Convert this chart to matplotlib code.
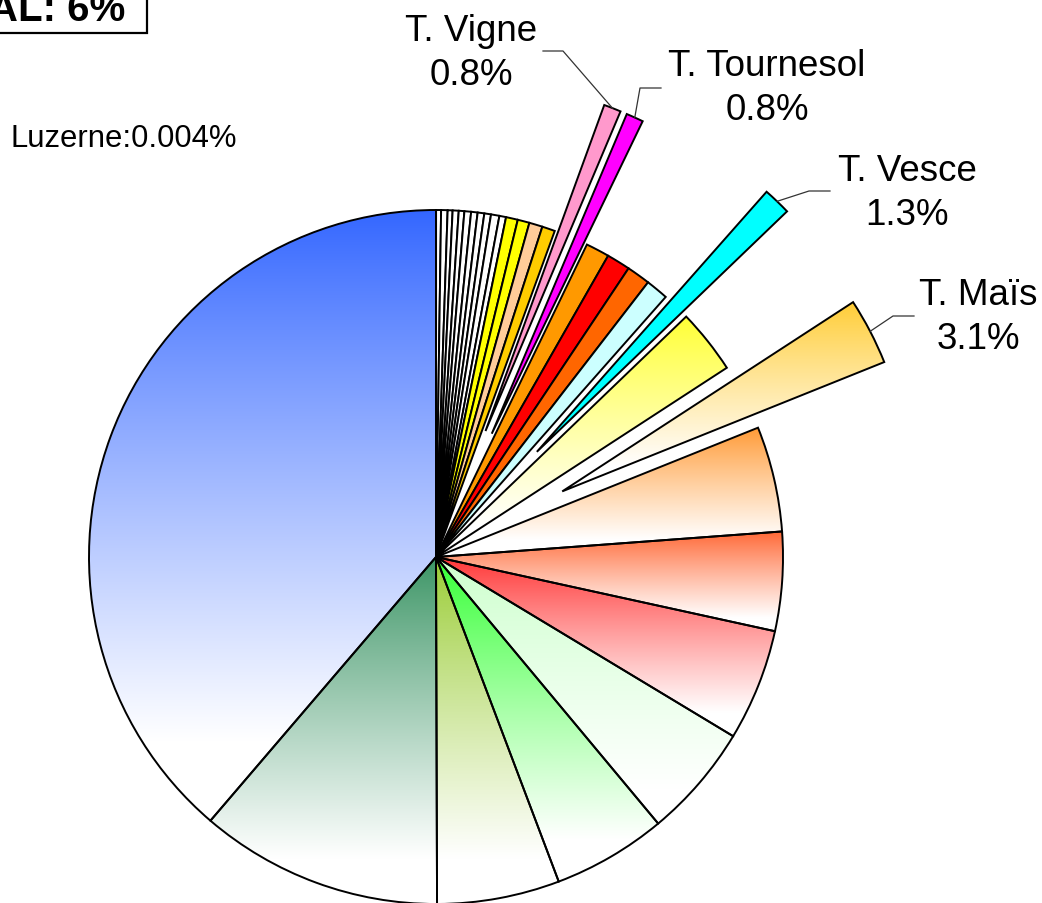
import numpy as np
import matplotlib
matplotlib.use("Agg")
import matplotlib.pyplot as plt
from matplotlib.colors import to_rgb
from matplotlib.patches import Rectangle

plt.rcParams["font.family"] = ["Liberation Sans", "DejaVu Sans"]

W, H = 1042, 904
CX, CY, R = 436, 558, 347  # pie centre / radius in pixels (y measured from top)

# slice shares in %, clockwise from 12 o'clock
values = [0.004,                                   # Luzerne
          0.23, 0.30, 0.23, 0.28, 0.26, 0.31, 0.30, 0.31, 0.31, 0.39, 0.31,
          0.55, 0.55, 0.62, 0.60,
          0.8, 0.8,                                # T. Vigne, T. Tournesol
          1.1, 1.1, 1.1, 1.05,
          1.3,                                     # T. Vesce
          3.0,
          3.1,                                     # T. Maïs
          4.9, 4.6, 5.2, 5.3, 5.3, 5.7, 11.3, 38.7]
colors = (["#FFFFFF"] * 12 +
          ["#FFFF00", "#FFFF00", "#FFCC99", "#FFCC00",
           "#FF99CC", "#FF00FF",
           "#FF9900", "#FF0000", "#FF6600", "#CCFFFF",
           "#00FFFF",
           "#FFFF33",
           "#FFCC33",
           "#FF9933", "#FF6633", "#FF3333", "#CCFFCC", "#33FF33", "#99CC33",
           "#3A9464", "#3366FF"])
gradient = [False] * 23 + [True] * 10
explode = [0.0] * 16 + [0.39, 0.39] + [0.0] * 4 + [0.42, 0.0, 0.41] + [0.0] * 8

# labelled (exploded) slices
label_idx = [16, 17, 22, 24]
label_names = ["T. Vigne", "T. Tournesol", "T. Vesce", "T. Maïs"]
label_pcts = ["0.8%", "0.8%", "1.3%", "3.1%"]
# layout of the labels (pixels): text centre x, first baseline y, elbow, line end
label_xy = [(471, 41), (767, 76), (907, 181), (978, 305)]
elbows = [((563, 52), (543, 52)), ((640, 89), (661, 89)),
          ((809, 192), (830, 192)), ((893, 317), (914, 317))]


def py(y):
    return H - y


fig = plt.figure(figsize=(W / 100, H / 100), dpi=100)
ax = fig.add_axes([0, 0, 1, 1])

wedges, _ = ax.pie(values, colors=colors, explode=[e * R for e in explode],
                   radius=R, center=(CX, py(CY)), startangle=90,
                   counterclock=False,
                   wedgeprops=dict(edgecolor="black", linewidth=1.4))

# vertical colour -> white gradients
t = np.linspace(0, 1, 256)[:, None]
for i, w in enumerate(wedges):
    if not gradient[i]:
        continue
    ext = w.get_path().get_extents()
    top = np.array(to_rgb(colors[i]))
    tt = np.clip(t * 1.15, 0, 1) ** 0.9
    rgb = top * (1 - tt) + tt
    img = ax.imshow(rgb[:, None, :], extent=(ext.x0, ext.x1, ext.y0, ext.y1),
                    origin="upper", aspect="auto", interpolation="bilinear",
                    zorder=0.5)
    img.set_clip_path(w)
    w.set_facecolor("none")

# labels with leader lines
total = sum(values)
cum = np.cumsum([0] + values)
for k, i in enumerate(label_idx):
    mid = np.deg2rad(90 - 360 * (cum[i] + values[i] / 2) / total)
    d = R + explode[i] * R
    ax_, ay_ = CX + d * np.cos(mid), py(CY) + d * np.sin(mid)
    (ex, ey), (hx, hy) = elbows[k]
    ax.plot([ax_, ex, hx], [ay_, py(ey), py(hy)], color="#333333", lw=0.9,
            zorder=3)
    tx, ty = label_xy[k]
    ax.text(tx, py(ty), label_names[k], ha="center", va="baseline",
            fontsize=26.5)
    ax.text(tx, py(ty + 44), label_pcts[k], ha="center", va="baseline",
            fontsize=26.5)

ax.text(10, py(147), "Luzerne:0.004%", ha="left", va="baseline", fontsize=22.3)

# total box, cropped at the top-left corner
ax.text(125, py(21), "TOTAL: 6%", ha="right", va="baseline", fontsize=29,
        fontweight="bold")
ax.add_patch(Rectangle((-200, py(34)), 347, 300, fill=False, edgecolor="black",
                       linewidth=1.6, zorder=3))

ax.set_xlim(0, W)
ax.set_ylim(0, H)
ax.set_aspect("equal")
ax.axis("off")

fig.savefig("out.png", dpi=100, facecolor="white")
